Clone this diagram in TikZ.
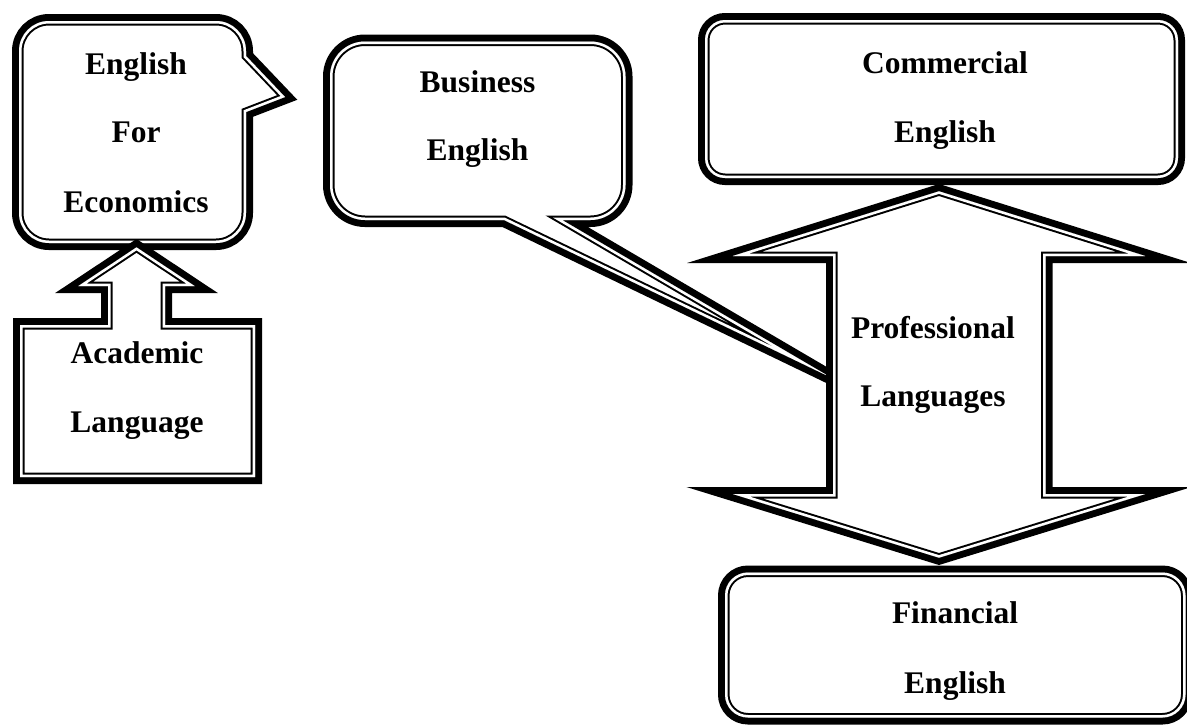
\documentclass[tikz,border=0pt]{standalone}
\usepackage{fontspec}
\setmainfont{Liberation Serif}
\tikzset{
  lbl/.style={font=\fontsize{31.5}{36}\selectfont\bfseries, inner sep=0pt, anchor=base},
}
% Thick-thin framed shape: thick black band outside the outline,
% a thin white gap and a thin black line inside it.
\newcommand\dshape[2][]{%
  \draw[#1, line width=14pt, line join=miter] #2;
  \fill[#1, white] #2;
  \begin{scope}
    \clip[#1] #2;
    \draw[#1, line width=9pt, line join=miter] #2;
    \draw[#1, white, line width=5pt, line join=miter] #2;
  \end{scope}}
\begin{document}
\begin{tikzpicture}[x=1pt,y=-1pt]
\useasboundingbox (0,0) rectangle (1187,724);

% callout: English For Economics
\dshape{(49,21) -- (216,21) .. controls (232.6,21) and (246,34.4) .. (246,51)
  -- (246,56) -- (285,97) -- (246,112) -- (246,213)
  .. controls (246,229.6) and (232.6,243) .. (216,243) -- (49,243)
  .. controls (32.4,243) and (19,229.6) .. (19,213) -- (19,51)
  .. controls (19,34.4) and (32.4,21) .. (49,21) -- cycle}

% up-arrow callout: Academic Language
\dshape{(20,325) -- (108,325) -- (108,286) -- (78.4,286) -- (136.5,247.4)
  -- (194.6,286) -- (165,286) -- (165,325) -- (255,325) -- (255,477)
  -- (20,477) -- cycle}

% callout: Business English
\dshape{(365,41.5) -- (590.5,41.5) .. controls (609.8,41.5) and (625.5,57.2) .. (625.5,76.5)
  -- (625.5,185) .. controls (625.5,204.3) and (609.8,220) .. (590.5,220)
  -- (562,220) -- (830,377) -- (504,220) -- (365,220)
  .. controls (345.7,220) and (330,204.3) .. (330,185) -- (330,76.5)
  .. controls (330,57.2) and (345.7,41.5) .. (365,41.5) -- cycle}

% up-down arrow: Professional Languages
\dshape{(939,191.3) -- (1145.2,256) -- (1045.5,256) -- (1045.5,494)
  -- (1145.2,494) -- (939,557.7) -- (732.8,494) -- (833,494)
  -- (833,256) -- (732.8,256) -- cycle}

% box: Commercial English
\dshape[rounded corners=20pt]{(705,20) rectangle (1178,178)}

% box: Financial English
\dshape[rounded corners=23pt]{(725,572.5) rectangle (1185.5,717.5)}

\node[lbl] (eco1) at (136,74) {English};
\node[lbl] (eco2) at (136,142) {For};
\node[lbl] (eco3) at (136,212) {Economics};
\node[lbl] (aca1) at (137,363) {Academic};
\node[lbl] (aca2) at (137,432) {Language};
\node[lbl] (bus1) at (477.5,92) {Business};
\node[lbl] (bus2) at (477.5,160) {English};
\node[lbl] (pro1) at (933,338) {Professional};
\node[lbl] (pro2) at (933,406) {Languages};
\node[lbl] (com1) at (945,73) {Commercial};
\node[lbl] (com2) at (945,142) {English};
\node[lbl] (fin1) at (955,623) {Financial};
\node[lbl] (fin2) at (955,693) {English};
\end{tikzpicture}
\end{document}
